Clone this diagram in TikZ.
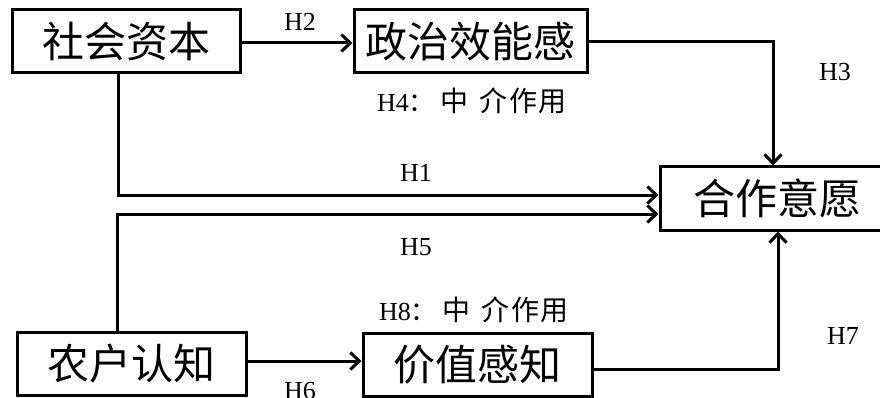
\documentclass[tikz,border=0pt]{standalone}
\usepackage{fontspec}
\setmainfont{Liberation Serif}
\newfontfamily\cjk{Noto Sans CJK SC}
\usetikzlibrary{arrows.meta}
\tikzset{
  box/.style={draw, line width=3pt, inner sep=0pt, minimum height=63pt, font=\cjk\fontsize{42}{42}\selectfont},
  conn/.style={line width=3pt, -{Straight Barb[length=9pt,width=17pt,line width=3pt]}},
  hlab/.style={inner sep=0pt, font=\fontsize{26}{26}\selectfont},
  mlab/.style={inner sep=0pt, anchor=west, font=\fontsize{26}{26}\selectfont}
}
\newcommand{\midtext}[1]{#1{\cjk：}\hspace{6pt}{\cjk\fontsize{28}{28}\selectfont 中\hspace{11pt}介\hspace{1.5pt}作\hspace{1.5pt}用}}
\begin{document}
\begin{tikzpicture}[x=1pt,y=-1pt]
\useasboundingbox (0,0) rectangle (880,398);
\clip (0,0) rectangle (880,398);
\node[box, minimum width=228pt] (sc) at (126,41.5) {社会资本};
\node[box, minimum width=233pt] (pe) at (470.5,41.5) {政治效能感};
\node[box, minimum width=234pt] (coop) at (777,198.5) {合作意愿};
\node[box, minimum width=229pt] (fc) at (131.5,363.5) {农户认知};
\node[box, minimum width=229pt] (pv) at (477.5,364.5) {价值感知};

\draw[conn] ([yshift=-1.5pt]sc.east) -- ([yshift=-1.5pt]pe.west);
\draw[conn] (pe.east) -| ([xshift=-4pt]coop.north);
\draw[conn] ([xshift=-8pt]sc.south) |- ([yshift=3.5pt]coop.west);
\draw[conn] ([xshift=-14.5pt]fc.north) |- ([yshift=-15.5pt]coop.west);
\draw[conn] ([yshift=2.5pt]fc.east) -- ([yshift=3.5pt]pv.west);
\draw[conn] ([yshift=-4.5pt]pv.east) -| ([xshift=1pt]coop.south);

\node[hlab] (h2) at (300,22) {H2};
\node[hlab] (h3) at (835,72) {H3};
\node[hlab] (h1) at (416,173) {H1};
\node[hlab] (h5) at (416,247) {H5};
\node[hlab] (h7) at (843,336) {H7};
\node[hlab] (h6) at (300,391) {H6};
\node[mlab] (h4) at (377,101) {\midtext{H4}};
\node[mlab] (h8) at (379,310) {\midtext{H8}};
\end{tikzpicture}
\end{document}
